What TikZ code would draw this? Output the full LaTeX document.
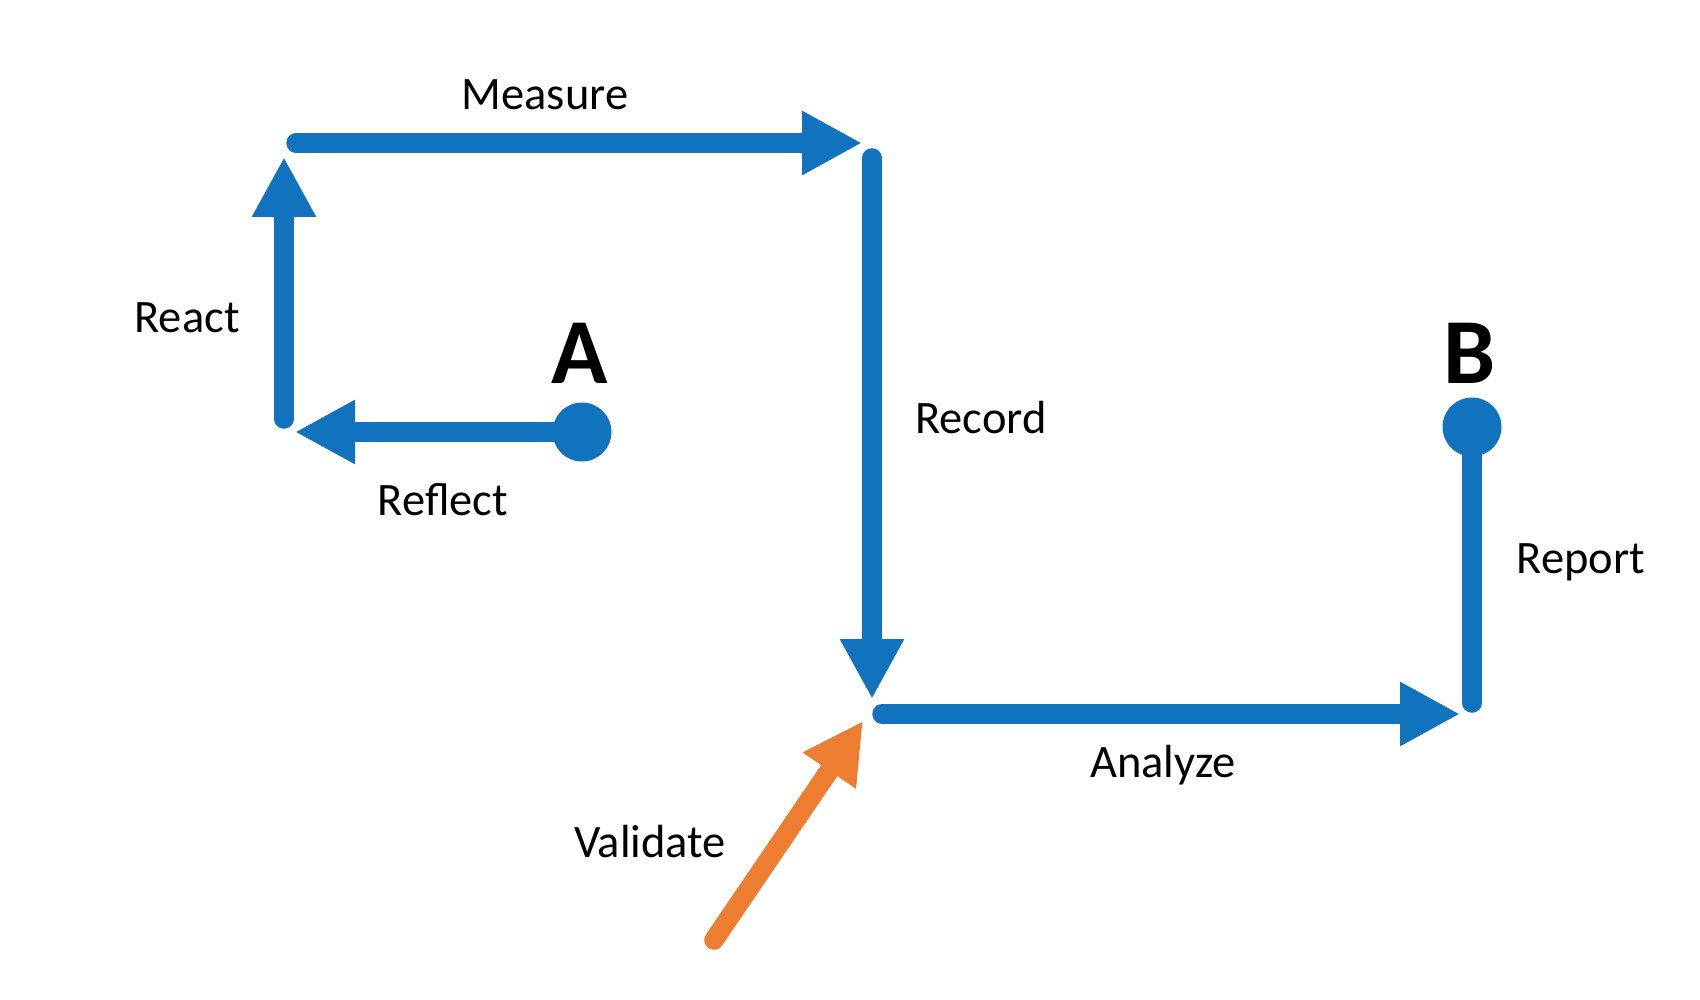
\documentclass[tikz,border=0pt]{standalone}
\usepackage{fontspec}
\setmainfont{Carlito}
\usetikzlibrary{arrows.meta}
\definecolor{flowblue}{RGB}{17,114,189}
\definecolor{floworange}{RGB}{237,125,49}
\begin{document}
\begin{tikzpicture}[x=1pt,y=-1pt,
  conn/.style={line width=19.5pt,line cap=round,draw=flowblue},
  tipped/.style={conn,-{Triangle[length=60pt,width=60pt]}},
  orangeconn/.style={line width=19.5pt,line cap=round,draw=floworange,-{Triangle[length=60pt,width=60pt]}},
  dot/.style={circle,fill=flowblue,minimum size=59pt,inner sep=0pt},
  lbl/.style={font=\fontsize{46.5}{50}\selectfont,anchor=base,inner sep=0pt},
  biglbl/.style={font=\fontsize{93}{100}\selectfont\bfseries,anchor=base,inner sep=0pt}]
\useasboundingbox (0,0) rectangle (1700,1000);
% points
\coordinate (pA) at (582,432);
\coordinate (reflectTip) at (295,432);
\coordinate (reactStart) at (284,419);
\coordinate (reactTip) at (284,157);
\coordinate (measureStart) at (296,143);
\coordinate (measureTip) at (862,143);
\coordinate (recordStart) at (872,158);
\coordinate (recordTip) at (872,699);
\coordinate (analyzeStart) at (882,714);
\coordinate (analyzeTip) at (1460,714);
\coordinate (pB) at (1472,427);
\coordinate (reportEnd) at (1472,703);
\coordinate (validateStart) at (714,940);
\coordinate (validateTip) at (863,721);
% connectors
\draw[tipped] (pA) -- (reflectTip);
\draw[tipped] (reactStart) -- (reactTip);
\draw[tipped] (measureStart) -- (measureTip);
\draw[tipped] (recordStart) -- (recordTip);
\draw[tipped] (analyzeStart) -- (analyzeTip);
\draw[conn] (pB) -- (reportEnd);
\draw[orangeconn] (validateStart) -- (validateTip);
% dots
\node[dot] (dotA) at (pA) {};
\node[dot] (dotB) at (pB) {};
% labels
\node[biglbl] (labA) at (580,383) {A};
\node[biglbl] (labB) at (1470,383) {B};
\node[lbl] (labMeasure) at (545,110) {Measure};
\node[lbl] (labReact) at (187,333) {React};
\node[lbl] (labReflect) at (443,515) {Reflect};
\node[lbl] (labRecord) at (981,433) {Record};
\node[lbl] (labReport) at (1581,573) {Report};
\node[lbl] (labAnalyze) at (1163,777) {Analyze};
\node[lbl] (labValidate) at (650,857) {Validate};
\end{tikzpicture}
\end{document}
